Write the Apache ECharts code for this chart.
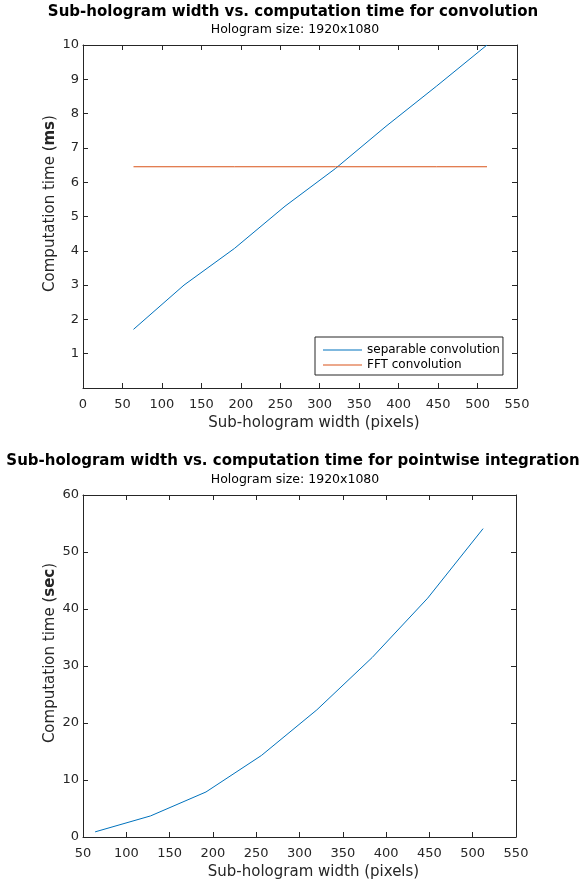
<!DOCTYPE html>
<html>
<head>
<meta charset="utf-8">
<script src="https://cdn.jsdelivr.net/npm/echarts@6/dist/echarts.min.js"></script>
<style>html,body{margin:0;padding:0;background:#fff;}#c{width:579px;height:884px;}</style>
</head>
<body>
<div id="c"></div>
<script>
// Data
var widths = [64, 128, 192, 256, 320, 384, 448, 512];
var separableMs = [1.71, 3.0, 4.07, 5.3, 6.4, 7.63, 8.8, 10.0];
var fftMs = [6.45, 6.45, 6.45, 6.45, 6.45, 6.45, 6.45, 6.45];
var pointwiseSec = [0.9, 3.7, 7.9, 14.3, 22.3, 31.5, 41.9, 54.1];
var topXTicks = [0, 550, 50];
var topYTicks = [0, 10, 1];
var botXTicks = [50, 550, 50];
var botYTicks = [0, 60, 10];

function pairs(xs, ys) { return xs.map(function (x, i) { return [x, ys[i]]; }); }

var FONT = 'DejaVu Sans';
var AX = '#262626';
var BLUE = '#0072BD';
var ORANGE = '#D95319';

function mainX(grid, t, name) {
  return {
    type: 'value', gridIndex: grid, min: t[0], max: t[1], interval: t[2],
    position: 'bottom',
    name: name, nameLocation: 'middle', nameGap: 28,
    nameTextStyle: { fontFamily: FONT, fontSize: 15, color: AX, padding: [0, 0, 0, 28] },
    axisLine: { show: true, onZero: false, lineStyle: { color: AX, width: 1 } },
    axisTick: { show: true, inside: true, length: 5, lineStyle: { color: AX } },
    axisLabel: { fontFamily: FONT, fontSize: 13, color: AX, margin: 10 },
    splitLine: { show: false }
  };
}
function boxX(grid, t) {
  return {
    type: 'value', gridIndex: grid, min: t[0], max: t[1], interval: t[2],
    position: 'top',
    axisLine: { show: true, onZero: false, lineStyle: { color: AX, width: 1 } },
    axisTick: { show: true, inside: true, length: 5, lineStyle: { color: AX } },
    axisLabel: { show: false }, splitLine: { show: false }
  };
}
function mainY(grid, t, unit, showMin) {
  return {
    type: 'value', gridIndex: grid, min: t[0], max: t[1], interval: t[2],
    position: 'left',
    name: '{n|Computation time (}{b|' + unit + '}{n|)}',
    nameLocation: 'middle', nameGap: 25, nameRotate: 90,
    nameMoveOverlap: false,
    nameTextStyle: {
      padding: [0, 0, 0, 26],
      rich: {
        n: { fontFamily: FONT, fontSize: 15, color: AX },
        b: { fontFamily: FONT, fontSize: 15, color: AX, fontWeight: 'bold' }
      }
    },
    axisLine: { show: true, onZero: false, lineStyle: { color: AX, width: 1 } },
    axisTick: { show: true, inside: true, length: 5, lineStyle: { color: AX } },
    axisLabel: { fontFamily: FONT, fontSize: 13, color: AX, margin: 4, showMinLabel: showMin },
    splitLine: { show: false }
  };
}
function boxY(grid, t) {
  return {
    type: 'value', gridIndex: grid, min: t[0], max: t[1], interval: t[2],
    position: 'right',
    axisLine: { show: true, onZero: false, lineStyle: { color: AX, width: 1 } },
    axisTick: { show: true, inside: true, length: 5, lineStyle: { color: AX } },
    axisLabel: { show: false }, splitLine: { show: false }
  };
}

function label(x, y, text, font) {
  return { type: 'text', x: x, y: y, style: { text: text, font: font, fill: '#000', align: 'center', verticalAlign: 'middle' } };
}

var chart = echarts.init(document.getElementById('c'), null, { renderer: 'canvas' });
chart.setOption({
  animation: false,
  backgroundColor: '#fff',
  textStyle: { fontFamily: FONT },
  grid: [
    { left: 83, top: 45, width: 434, height: 343 },
    { left: 83, top: 495, width: 433, height: 342 }
  ],
  xAxis: [
    mainX(0, topXTicks, 'Sub-hologram width (pixels)'),
    boxX(0, topXTicks),
    mainX(1, botXTicks, 'Sub-hologram width (pixels)'),
    boxX(1, botXTicks)
  ],
  yAxis: [
    mainY(0, topYTicks, 'ms', false),
    boxY(0, topYTicks),
    mainY(1, botYTicks, 'sec', true),
    boxY(1, botYTicks)
  ],
  legend: {
    orient: 'vertical', left: 315, top: 337,
    data: ['separable convolution', 'FFT convolution'],
    icon: 'rect',
    itemWidth: 39, itemHeight: 1, itemGap: 3,
    padding: [7, 3, 4, 8],
    borderColor: AX, borderWidth: 1, backgroundColor: '#fff',
    textStyle: { fontFamily: FONT, fontSize: 12, color: '#000' }
  },
  graphic: [
    label(293, 12, 'Sub-hologram width vs. computation time for convolution', 'bold 15px "DejaVu Sans"'),
    label(295, 30, 'Hologram size: 1920x1080', '12.5px "DejaVu Sans"'),
    label(293, 461, 'Sub-hologram width vs. computation time for pointwise integration', 'bold 15px "DejaVu Sans"'),
    label(295, 480, 'Hologram size: 1920x1080', '12.5px "DejaVu Sans"')
  ],
  series: [
    { name: 'separable convolution', type: 'line', xAxisIndex: 0, yAxisIndex: 0, data: pairs(widths, separableMs), symbol: 'none', lineStyle: { color: BLUE, width: 1 }, itemStyle: { color: BLUE } },
    { name: 'FFT convolution', type: 'line', xAxisIndex: 0, yAxisIndex: 0, data: pairs(widths, fftMs), symbol: 'none', lineStyle: { color: ORANGE, width: 1 }, itemStyle: { color: ORANGE } },
    { name: 'pointwise integration', type: 'line', xAxisIndex: 2, yAxisIndex: 2, data: pairs(widths, pointwiseSec), symbol: 'none', lineStyle: { color: BLUE, width: 1 }, itemStyle: { color: BLUE } }
  ]
});
</script>
</body>
</html>
